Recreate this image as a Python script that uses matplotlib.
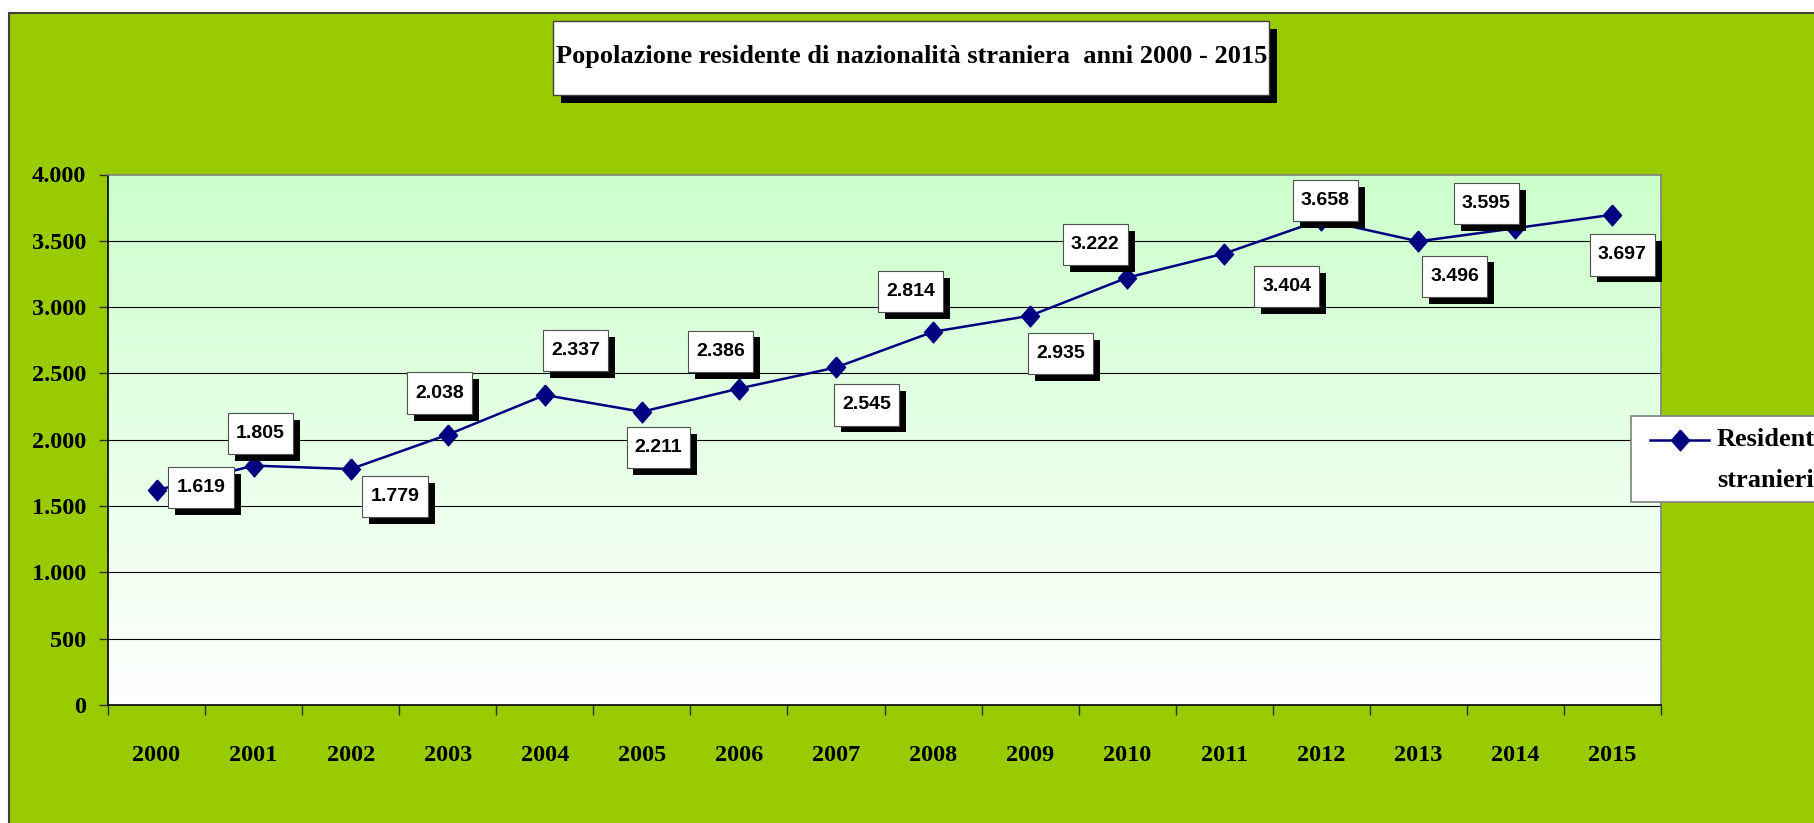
import numpy as np
import matplotlib.pyplot as plt
from matplotlib.patches import Rectangle
from matplotlib.lines import Line2D
from matplotlib.path import Path
from matplotlib.ticker import FuncFormatter
import matplotlib.patheffects as pe

# dati
anni = ['2000', '2001', '2002', '2003', '2004', '2005', '2006', '2007',
        '2008', '2009', '2010', '2011', '2012', '2013', '2014', '2015']
residenti = [1619, 1805, 1779, 2038, 2337, 2211, 2386, 2545,
             2814, 2935, 3222, 3404, 3658, 3496, 3595, 3697]
tick_y = [0, 500, 1000, 1500, 2000, 2500, 3000, 3500, 4000]
titolo = 'Popolazione residente di nazionalità straniera  anni 2000 - 2015'
legenda = ['Residenti', 'stranieri']

# posizione delle etichette rispetto al punto (punti tipografici)
offset_etichette = [(32, 2), (5, 23), (32, -20), (-6, 30), (22, 32), (12, -26),
                    (-13, 27), (22, -27), (-16, 29), (22, -27), (-23, 24),
                    (45, -24), (3, 14), (26, -25), (-21, 18), (7, -29)]

VERDE = '#99CC00'
BLU = '#000080'
SERIF = ['Liberation Serif', 'DejaVu Serif']
SANS = ['Liberation Sans', 'DejaVu Sans']
ROMBO = [(0, 1), (0.87, 0), (0, -1), (-0.87, 0), (0, 1)]

W, H = 1814, 823
fig = plt.figure(figsize=(W / 100, H / 100), dpi=100)
fig.patch.set_facecolor('white')


def fx(px):
    return px / W


def fy(py):
    return 1 - py / H


def punti(n):
    return f'{int(n):,}'.replace(',', '.')


def riquadro(x0, y0, width, height, mutation_size):
    # riquadro con margine diverso in orizzontale e in verticale
    px = 0.42 * mutation_size
    py = 0.62 * mutation_size
    a, b = x0 - px, y0 - py
    c, d = x0 + width + px, y0 + height + py
    return Path([(a, b), (c, b), (c, d), (a, d), (a, b)], closed=True)


# sfondo verde del grafico
fig.add_artist(Rectangle((fx(9), fy(H + 20)), (W + 20 - 9) / W, (H + 20 - 12.5) / H,
                         transform=fig.transFigure, facecolor=VERDE,
                         edgecolor='#404040', linewidth=1.5, zorder=-5))

ax = fig.add_axes([fx(108), fy(705), fx(1661) - fx(108), fy(174.5) - fy(705)])
ax.set_facecolor('white')

# sfumatura area del tracciato
g = np.linspace(1, 0, 256)[:, None, None]
top = np.array([204, 255, 204]) / 255
img = np.ones((256, 1, 3)) * (1 - g) + top * g
ax.imshow(img, extent=[-0.5, 15.5, 0, 4000], aspect='auto', zorder=0, origin='upper')

ax.set_xlim(-0.5, 15.5)
ax.set_ylim(0, 4000)

for y in tick_y[1:-1]:
    ax.axhline(y, color='black', lw=0.8, zorder=1)

x = np.arange(len(anni))
ax.plot(x, residenti, color=BLU, lw=1.8, marker=ROMBO, markersize=15,
        markerfacecolor=BLU, markeredgecolor=BLU, zorder=3)

for i, (v, off) in enumerate(zip(residenti, offset_etichette)):
    ann = ax.annotate(punti(v), (i, v), xytext=off, textcoords='offset points',
                      ha='center', va='center', fontsize=14, fontweight='bold',
                      family=SANS, zorder=6,
                      bbox=dict(boxstyle=riquadro, fc='white',
                                ec='#505050', lw=0.8))
    ann.get_bbox_patch().set_path_effects([
        pe.SimplePatchShadow(offset=(5, -5), shadow_rgbFace='black', alpha=1.0),
        pe.Normal()])

# assi
ax.set_xticks(np.arange(-0.5, 16, 1))
ax.set_xticklabels([])
ax.set_xticks(x, minor=True)
ax.set_xticklabels(anni, minor=True, fontsize=17.5, fontweight='bold', family=SERIF)
ax.tick_params(axis='x', which='major', direction='out', length=7, width=1,
               color='#303030')
ax.tick_params(axis='x', which='minor', length=0, pad=29)

ax.set_yticks(tick_y)
ax.yaxis.set_major_formatter(FuncFormatter(lambda v, p: punti(v)))
ax.tick_params(axis='y', direction='out', length=6.5, width=1, pad=9,
               color='#303030')
for lab in ax.get_yticklabels():
    lab.set_fontsize(17.5)
    lab.set_fontweight('bold')
    lab.set_family(SERIF)

ax.spines['top'].set_color('#808080')
ax.spines['right'].set_color('#808080')
ax.spines['left'].set_color('black')
ax.spines['bottom'].set_color('black')
for s in ax.spines.values():
    s.set_linewidth(1.2)

# titolo con ombra
fig.add_artist(Rectangle((fx(561), fy(103)), (1269 - 553) / W, 74 / H,
                         transform=fig.transFigure, facecolor='black',
                         edgecolor='none', zorder=4))
fig.add_artist(Rectangle((fx(553), fy(95)), (1269 - 553) / W, 74 / H,
                         transform=fig.transFigure, facecolor='white',
                         edgecolor='#404040', linewidth=1, zorder=5))
fig.text(fx(912), fy(63), titolo, ha='center', va='baseline', fontsize=19,
         fontweight='bold', family=SERIF, color='black', zorder=6)

# legenda
fig.add_artist(Rectangle((fx(1631), fy(502)), (W + 20 - 1631) / W, 86 / H,
                         transform=fig.transFigure, facecolor='white',
                         edgecolor='#808080', linewidth=1.2, zorder=5))
fig.add_artist(Line2D([fx(1650), fx(1709)], [fy(440), fy(440)], color=BLU, lw=1.8,
                      transform=fig.transFigure, zorder=6))
fig.add_artist(Line2D([fx(1679.5)], [fy(440)], color=BLU, marker=ROMBO,
                      markersize=15, transform=fig.transFigure, zorder=7))
fig.text(fx(1717), fy(446), legenda[0], ha='left', va='baseline', fontsize=19,
         fontweight='bold', family=SERIF, zorder=7)
fig.text(fx(1717), fy(487), legenda[1], ha='left', va='baseline', fontsize=19,
         fontweight='bold', family=SERIF, zorder=7)

fig.savefig('out.png', dpi=100, facecolor=fig.get_facecolor())
